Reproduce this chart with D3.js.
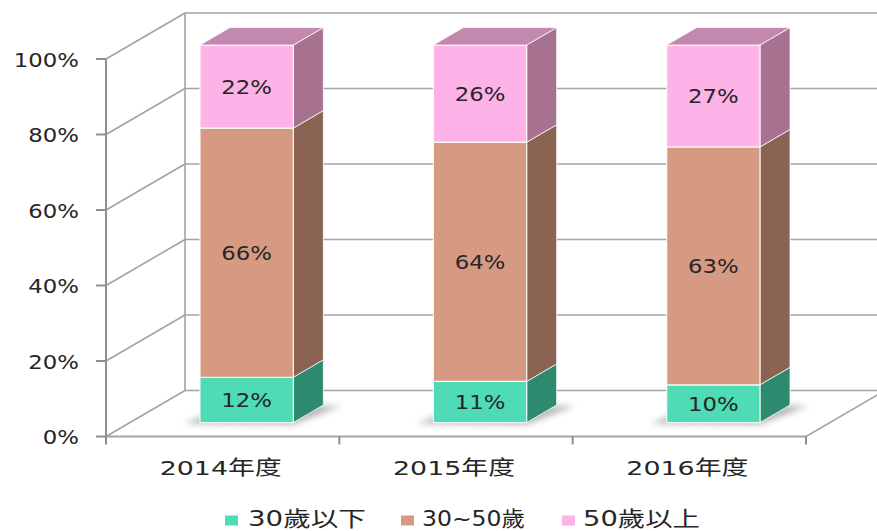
<!DOCTYPE html>
<html>
<head>
<meta charset="utf-8">
<script src="https://cdn.jsdelivr.net/npm/d3@7"></script>
<style>
  html, body { margin: 0; padding: 0; background: #ffffff; }
  svg { display: block; }
  text { font-family: "DejaVu Sans", "Noto Sans CJK TC", sans-serif; fill: #262626; }
</style>
</head>
<body>
<svg id="chart" width="877" height="531"></svg>
<script>
// Age structure by fiscal year (100% stacked)
const categories = ["2014年度", "2015年度", "2016年度"];
const seriesNames = ["30歲以下", "30~50歲", "50歲以上"];
const under30 = [12, 11, 10];
const age30to50 = [66, 64, 63];
const over50 = [22, 26, 27];
const yTickValues = [0, 20, 40, 60, 80, 100];

const rows = categories.map((c, i) => ({
  category: c,
  "30歲以下": under30[i],
  "30~50歲": age30to50[i],
  "50歲以上": over50[i]
}));

// face colours per series: front, side, top
const palette = {
  "30歲以下": { front: "#4edbb5", side: "#2e8a6e", top: "#3fb794" },
  "30~50歲": { front: "#d69a82", side: "#8a6353", top: "#b27e69" },
  "50歲以上": { front: "#fdb2e8", side: "#a67290", top: "#c388ae" }
};

const svg = d3.select("#chart");

// oblique projection for the 3D box
const slope = 46 / 79;
const wallDepth = 79;
const barDepth = 30;
const barFrontOffset = 24;
const proj = (x, y, d) => [x + d, y - d * slope];

const x = d3.scaleBand().domain(categories).range([106, 806]).paddingInner(0).paddingOuter(0);
const y = d3.scaleLinear().domain([0, 1]).range([436.5, 59]);
const barWidth = x.bandwidth() * 0.4;

const stack = d3.stack().keys(seriesNames).offset(d3.stackOffsetExpand);
const stacked = stack(rows);

const gridColor = "#a3a3a3";

// back wall and left wall gridlines
const grid = svg.append("g");
yTickValues.forEach(t => {
  const yf = y(t / 100);
  const [bx, by] = proj(106, yf, wallDepth);
  grid.append("line").attr("x1", 106).attr("y1", yf).attr("x2", bx).attr("y2", by)
    .attr("stroke", gridColor).attr("stroke-width", 1.6);
  grid.append("line").attr("x1", bx).attr("y1", by).attr("x2", 806 + wallDepth).attr("y2", by)
    .attr("stroke", gridColor).attr("stroke-width", 1.6);
});
// back wall left edge
{
  const [bx, byTop] = proj(106, y(1), wallDepth);
  const [, byBot] = proj(106, y(0), wallDepth);
  grid.append("line").attr("x1", bx).attr("y1", byTop).attr("x2", bx).attr("y2", byBot)
    .attr("stroke", gridColor).attr("stroke-width", 1.6);
}
// floor front edge and right edge
{
  const [rx, ry] = proj(806, y(0), wallDepth);
  grid.append("line").attr("x1", 106).attr("y1", y(0)).attr("x2", 806).attr("y2", y(0))
    .attr("stroke", gridColor).attr("stroke-width", 1.8);
  grid.append("line").attr("x1", 806).attr("y1", y(0)).attr("x2", rx).attr("y2", ry)
    .attr("stroke", gridColor).attr("stroke-width", 1.6);
}

// shadow filter
const defs = svg.append("defs");
defs.append("filter").attr("id", "soft").attr("x", "-50%").attr("y", "-50%").attr("width", "200%").attr("height", "200%")
  .append("feGaussianBlur").attr("stdDeviation", 3);

const poly = pts => pts.map(p => p.join(",")).join(" ");

// bars
const bars = svg.append("g");
categories.forEach((cat, ci) => {
  const cx = x(cat) + x.bandwidth() / 2;
  const x0 = cx - barWidth / 2;
  const x1 = cx + barWidth / 2;
  const g = bars.append("g");

  // floor shadow under the box
  const yb = y(0);
  const s = [
    proj(x0 - 16, yb + 1, barFrontOffset),
    proj(x1, yb + 2, barFrontOffset),
    proj(x1 + 18, yb + 1, barFrontOffset + barDepth),
    proj(x0, yb, barFrontOffset + barDepth)
  ];
  g.append("polygon").attr("points", poly(s)).attr("fill", "#7a7a7a").attr("opacity", 0.55)
    .attr("filter", "url(#soft)");

  stacked.forEach((layer, li) => {
    const d = layer[ci];
    const key = layer.key;
    const col = palette[key];
    const yBot = y(d[0]);
    const yTop = y(d[1]);
    const f = barFrontOffset;
    const front = [proj(x0, yBot, f), proj(x1, yBot, f), proj(x1, yTop, f), proj(x0, yTop, f)];
    const side = [proj(x1, yBot, f), proj(x1, yBot, f + barDepth), proj(x1, yTop, f + barDepth), proj(x1, yTop, f)];
    g.append("polygon").attr("points", poly(side)).attr("fill", col.side)
      .attr("stroke", "rgba(255,255,255,0.75)").attr("stroke-width", 1);
    g.append("polygon").attr("points", poly(front)).attr("fill", col.front)
      .attr("stroke", "rgba(255,255,255,0.85)").attr("stroke-width", 1.2);
    if (li === stacked.length - 1) {
      const top = [proj(x0, yTop, f), proj(x1, yTop, f), proj(x1, yTop, f + barDepth), proj(x0, yTop, f + barDepth)];
      g.append("polygon").attr("points", poly(top)).attr("fill", col.top)
        .attr("stroke", "rgba(255,255,255,0.75)").attr("stroke-width", 1);
    }
    // value label centred on the front face
    const value = rows[ci][key];
    const [lx, ly] = proj(cx, (yBot + yTop) / 2, f);
    g.append("text")
      .attr("transform", `translate(${lx},${ly + 7.5}) scale(1.2,1)`)
      .attr("text-anchor", "middle")
      .attr("font-size", 19)
      .text(value + "%");
  });
});

// value axis
const axis = svg.append("g");
axis.append("line").attr("x1", 106).attr("y1", y(1)).attr("x2", 106).attr("y2", y(0) + 7)
  .attr("stroke", "#8f8f8f").attr("stroke-width", 2);
yTickValues.forEach(t => {
  const yy = y(t / 100);
  axis.append("line").attr("x1", 96).attr("y1", yy).attr("x2", 106).attr("y2", yy)
    .attr("stroke", "#8f8f8f").attr("stroke-width", 2);
  axis.append("text")
    .attr("transform", `translate(79,${yy + 7.5}) scale(1.2,1)`)
    .attr("text-anchor", "end")
    .attr("font-size", 19)
    .text(t + "%");
});

// category axis ticks and labels
const catTicks = [0, 1, 2, 3].map(i => 106 + i * x.bandwidth());
catTicks.forEach(tx => {
  axis.append("line").attr("x1", tx).attr("y1", y(0)).attr("x2", tx).attr("y2", y(0) + 8)
    .attr("stroke", "#8f8f8f").attr("stroke-width", 2);
});
categories.forEach(cat => {
  const cx = x(cat) + x.bandwidth() / 2;
  axis.append("text")
    .attr("x", cx - 2).attr("y", 474.5)
    .attr("text-anchor", "middle")
    .attr("font-size", 20)
    .attr("textLength", 122)
    .attr("lengthAdjust", "spacingAndGlyphs")
    .text(cat);
});

// legend
const legendItems = [
  { key: "30歲以下", sx: 225, tx: 248, w: 118 },
  { key: "30~50歲", sx: 401, tx: 422, w: 103 },
  { key: "50歲以上", sx: 562, tx: 583, w: 117 }
];
const legend = svg.append("g");
legendItems.forEach(it => {
  legend.append("rect").attr("x", it.sx).attr("y", 515.5).attr("width", 13).attr("height", 10)
    .attr("fill", palette[it.key].front);
  legend.append("text")
    .attr("x", it.tx).attr("y", 526)
    .attr("font-size", 21)
    .attr("textLength", it.w)
    .attr("lengthAdjust", "spacingAndGlyphs")
    .text(it.key);
});
</script>
</body>
</html>
